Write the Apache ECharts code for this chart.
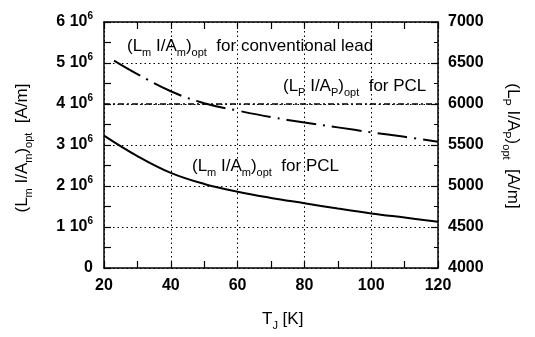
<!DOCTYPE html>
<html><head><meta charset="utf-8">
<script src="https://cdn.jsdelivr.net/npm/echarts@6/dist/echarts.min.js"></script>
<style>html,body{margin:0;padding:0;background:#fff}#c{width:535px;height:337px}</style>
</head><body><div id="c"></div>
<script>
// Data
var temps = [20, 30, 40, 50, 60, 70, 80, 90, 100, 110, 120];
var pclM = [3.23, 2.73, 2.32, 2.05, 1.86, 1.71, 1.58, 1.45, 1.33, 1.23, 1.13]; // x1e6 A/m
var convT = [23, 30, 40, 50, 60, 70, 80, 90, 100, 110, 120];
var convM = [5.06, 4.73, 4.31, 4.02, 3.84, 3.68, 3.55, 3.43, 3.31, 3.20, 3.08]; // x1e6 A/m
var pclPT = [20, 120];
var pclP = [6000, 6000]; // A/m, right axis
var leftTicks = [0, 1, 2, 3, 4, 5, 6]; // x1e6
var rightTicks = [4000, 4500, 5000, 5500, 6000, 6500, 7000];

var FONT = 'Liberation Sans, Arial, sans-serif';
var chart = echarts.init(document.getElementById('c'));
function pairs(xs, ys, k) { return xs.map(function (x, i) { return [x, ys[i] * k]; }); }

var rich = {
  b: { fontFamily: FONT, fontSize: 17, color: '#000' },
  s: { fontFamily: FONT, fontSize: 11, color: '#000', padding: [13, 0, 0, 0] }
};
var sup = {
  a: { fontFamily: FONT, fontSize: 16, fontWeight: 'bold', color: '#000' },
  p: { fontFamily: FONT, fontSize: 10, fontWeight: 'bold', color: '#000', padding: [0, 0, 12, 0] }
};

chart.setOption({
  animation: false,
  grid: { left: 104, right: 97, top: 22, bottom: 69 },
  xAxis: [{
    type: 'value', min: 20, max: 120, interval: 20,
    axisLine: { lineStyle: { color: '#000', width: 1.5 } },
    axisTick: { inside: true, length: 7, lineStyle: { color: '#000', width: 1.2 } },
    minorTick: { show: true, splitNumber: 2, length: 7, lineStyle: { color: '#000', width: 1.2 } },
    axisLabel: { fontFamily: FONT, fontSize: 16, fontWeight: 'bold', color: '#000', margin: 10 },
    splitLine: { show: true, lineStyle: { color: '#000', type: [1.5, 3], width: 1 } }
  }, {
    type: 'value', min: 20, max: 120, interval: 20, position: 'top',
    axisLine: { show: true, lineStyle: { color: '#000', width: 1.5 } },
    axisTick: { inside: true, length: 7, lineStyle: { color: '#000', width: 1.2 } },
    minorTick: { show: true, splitNumber: 2, length: 7, lineStyle: { color: '#000', width: 1.2 } },
    axisLabel: { show: false }, splitLine: { show: false }
  }],
  yAxis: [{
    type: 'value', min: 0, max: 6e6, interval: 1e6,
    axisLine: { show: true, lineStyle: { color: '#000', width: 1.5 } },
    axisTick: { inside: true, length: 7, lineStyle: { color: '#000', width: 1.2 } },
    minorTick: { show: true, splitNumber: 2, length: 7, lineStyle: { color: '#000', width: 1.2 } },
    axisLabel: {
      margin: 11, rich: sup,
      formatter: function (v) { var n = Math.round(v / 1e6); return n === 0 ? '{a|0}' : '{a|' + leftTicks[n] + ' 10}{p|6}'; }
    },
    splitLine: { show: true, lineStyle: { color: '#000', type: [1.5, 3], width: 1 } }
  }, {
    type: 'value', min: 4000, max: 7000, interval: 500, position: 'right',
    axisLine: { show: true, lineStyle: { color: '#000', width: 1.5 } },
    axisTick: { inside: true, length: 7, lineStyle: { color: '#000', width: 1.2 } },
    minorTick: { show: true, splitNumber: 2, length: 4, lineStyle: { color: '#000', width: 1 } },
    axisLabel: { fontFamily: FONT, fontSize: 16, fontWeight: 'bold', color: '#000', margin: 10,
      formatter: function (v) { return String(v); } },
    splitLine: { show: false }
  }],
  series: [{
    type: 'line', xAxisIndex: 0, yAxisIndex: 0, data: pairs(temps, pclM, 1e6),
    smooth: 0.4, showSymbol: false, lineStyle: { color: '#000', width: 2 }
  }, {
    type: 'line', xAxisIndex: 0, yAxisIndex: 0, data: pairs(convT, convM, 1e6),
    smooth: 0.4, showSymbol: false, lineStyle: { color: '#000', width: 2, type: [30, 7, 2, 7] }
  }, {
    type: 'line', xAxisIndex: 0, yAxisIndex: 1, data: pairs(pclPT, pclP, 1),
    showSymbol: false, lineStyle: { color: '#000', width: 1.6, type: [6, 3, 2, 3] }
  }],
  graphic: [
    { type: 'text', left: 127, top: 38, style: { text: '{b|(L}{s|m}{b| I/A}{s|m}{b|)}{s|opt}{b|  for conventional lead}', rich: rich } },
    { type: 'text', left: 283, top: 78, style: { text: '{b|(L}{s|P}{b| I/A}{s|P}{b|)}{s|opt}{b|  for PCL}', rich: rich } },
    { type: 'text', left: 192, top: 158, style: { text: '{b|(L}{s|m}{b| I/A}{s|m}{b|)}{s|opt}{b|  for PCL}', rich: rich } },
    { type: 'text', left: 262, top: 311, style: { text: '{b|T}{s|J}{b| [K]}', rich: rich } },
    { type: 'text', x: 22, y: 148, rotation: Math.PI / 2, style: { text: '{b|(L}{s|m}{b| I/A}{s|m}{b|)}{s|opt}{b|  [A/m]}', rich: rich, align: 'center', verticalAlign: 'middle' } },
    { type: 'text', x: 513, y: 146, rotation: -Math.PI / 2, style: { text: '{b|(L}{s|P}{b| I/A}{s|P}{b|)}{s|opt}{b|  [A/m]}', rich: rich, align: 'center', verticalAlign: 'middle' } }
  ]
});
</script></body></html>
